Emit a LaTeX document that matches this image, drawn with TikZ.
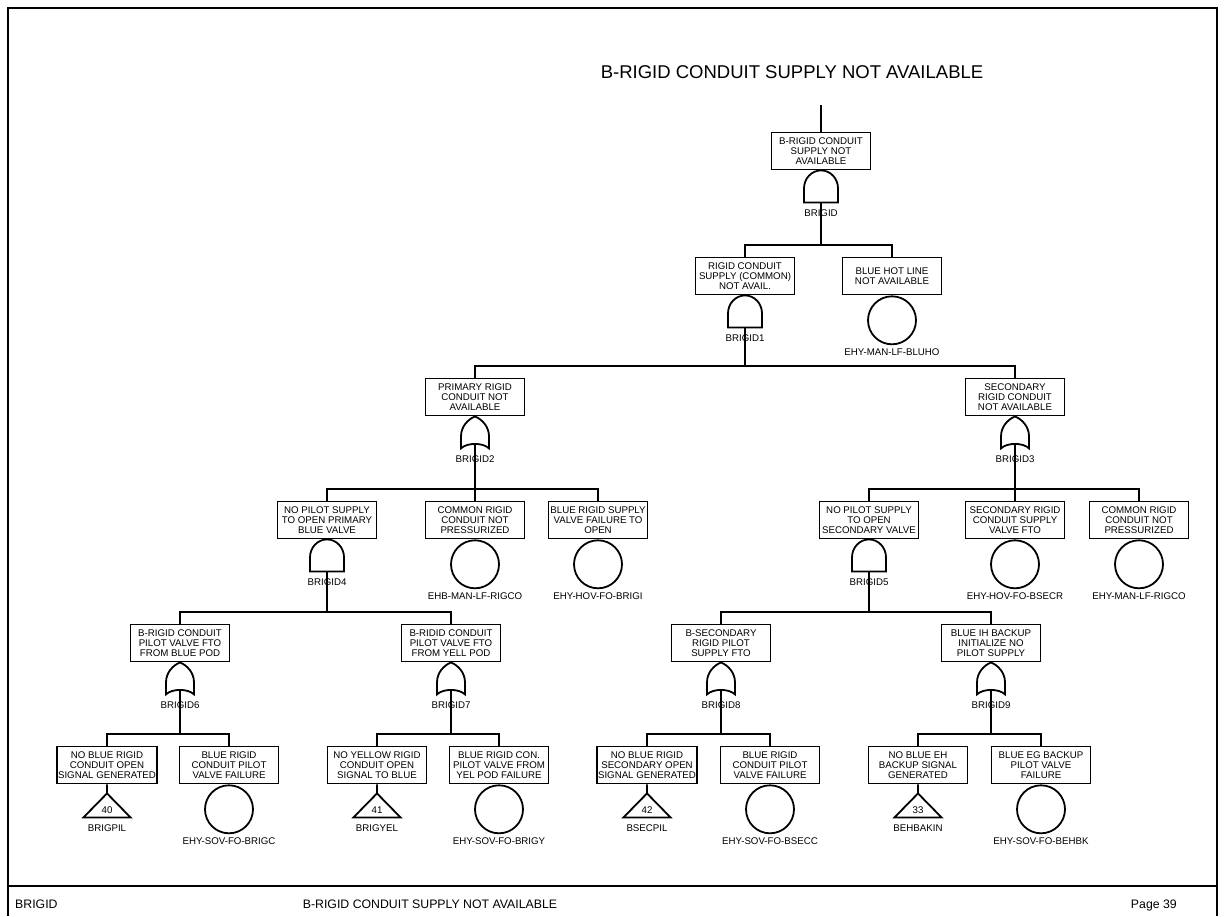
\documentclass[tikz,border=0pt]{standalone}
\usepackage{fontspec}
\setmainfont{Liberation Sans}
\usetikzlibrary{positioning}

\newcommand\evtfont{\fontsize{9.7}{9.8}\selectfont}
\newcommand\titlefont{\fontsize{18.5}{20}\selectfont}
\newcommand\footfont{\fontsize{12.3}{14}\selectfont}

\tikzset{
  andgate/.pic={\draw[pic actions] (-17pt,-32pt) -- (-17pt,-18pt) arc[start angle=180,end angle=0,x radius=17pt,y radius=18pt] -- (17pt,-32pt) -- cycle;},
  orgate/.pic={\draw[pic actions] (0,0) .. controls (7pt,-3pt) and (14pt,-10pt) .. (14pt,-20pt) -- (14pt,-32pt) .. controls (8pt,-26pt) and (-8pt,-26pt) .. (-14pt,-32pt) -- (-14pt,-20pt) .. controls (-14pt,-10pt) and (-7pt,-3pt) .. (0,0) -- cycle;},
  xfer/.pic={\draw[pic actions] (0,0) -- (0,-9pt) -- (23.5pt,-33pt) -- (-23.5pt,-33pt) -- (0,-9pt);}
}

\begin{document}
\begin{tikzpicture}[x=1pt, y=-1pt, line width=1.8pt,
  evt/.style={draw, minimum width=99pt, minimum height=37pt, inner sep=1pt, align=center, font=\evtfont},
  lbl/.style={inner sep=0pt, font=\evtfont},
  basic/.style={draw, circle, minimum size=48pt, inner sep=0pt}]
\useasboundingbox (0,0) rectangle (1225,916);
% page frame and footer
\draw[line width=1.3pt] (8,916) -- (8,8) -- (1217,8) -- (1217,916);
\draw[line width=2pt] (8,886) -- (1217,886);
\node[font=\titlefont] (title) at (792,72) {B-RIGID CONDUIT SUPPLY NOT AVAILABLE};
\node[font=\footfont, anchor=base west] (foot-l) at (11,908) {BRIGID};
\node[font=\footfont, anchor=base] (foot-c) at (430,908) {B-RIGID CONDUIT SUPPLY NOT AVAILABLE};
\node[font=\footfont, anchor=base east] (foot-r) at (1181,908) {Page 39};

% events
\node[evt] (brigid)   at (821,151) {B-RIGID CONDUIT\\SUPPLY NOT\\AVAILABLE};
\node[evt] (brigid1)  at (745,276) {RIGID CONDUIT\\SUPPLY (COMMON)\\NOT AVAIL.};
\node[evt] (bluho)    at (892,276) {BLUE HOT LINE\\NOT AVAILABLE};
\node[evt] (brigid2)  at (475,397) {PRIMARY RIGID\\CONDUIT NOT\\AVAILABLE};
\node[evt] (brigid3)  at (1015,397) {SECONDARY\\RIGID CONDUIT\\NOT AVAILABLE};
\node[evt] (brigid4)  at (327,520) {NO PILOT SUPPLY\\TO OPEN PRIMARY\\BLUE VALVE};
\node[evt] (rigco)    at (475,520) {COMMON RIGID\\CONDUIT NOT\\PRESSURIZED};
\node[evt] (brigi)    at (598,520) {BLUE RIGID SUPPLY\\VALVE FAILURE TO\\OPEN};
\node[evt] (brigid5)  at (869,520) {NO PILOT SUPPLY\\TO OPEN\\SECONDARY VALVE};
\node[evt] (bsecr)    at (1015,520) {SECONDARY RIGID\\CONDUIT SUPPLY\\VALVE FTO};
\node[evt] (rigcob)   at (1139,520) {COMMON RIGID\\CONDUIT NOT\\PRESSURIZED};
\node[evt] (brigid6)  at (180,643) {B-RIGID CONDUIT\\PILOT VALVE FTO\\FROM BLUE POD};
\node[evt] (brigid7)  at (451,643) {B-RIDID CONDUIT\\PILOT VALVE FTO\\FROM YELL POD};
\node[evt] (brigid8)  at (721,643) {B-SECONDARY\\RIGID PILOT\\SUPPLY FTO};
\node[evt] (brigid9)  at (991,643) {BLUE IH BACKUP\\INITIALIZE NO\\PILOT SUPPLY};
\node[evt] (brigpil)  at (107,765) {NO BLUE RIGID\\CONDUIT OPEN\\SIGNAL GENERATED};
\node[evt] (brigc)    at (229,765) {BLUE RIGID\\CONDUIT PILOT\\VALVE FAILURE};
\node[evt] (brigyel)  at (377,765) {NO YELLOW RIGID\\CONDUIT OPEN\\SIGNAL TO BLUE};
\node[evt] (brigy)    at (499,765) {BLUE RIGID CON.\\PILOT VALVE FROM\\YEL POD FAILURE};
\node[evt] (bsecpil)  at (647,765) {NO BLUE RIGID\\SECONDARY OPEN\\SIGNAL GENERATED};
\node[evt] (bsecc)    at (770,765) {BLUE RIGID\\CONDUIT PILOT\\VALVE FAILURE};
\node[evt] (behbakin) at (918,765) {NO BLUE EH\\BACKUP SIGNAL\\GENERATED};
\node[evt] (behbk)    at (1041,765) {BLUE EG BACKUP\\PILOT VALVE\\FAILURE};

% gates
\foreach \g/\s in {brigid/BRIGID, brigid1/BRIGID1, brigid4/BRIGID4, brigid5/BRIGID5} {
  \pic at (\g.south) {andgate};
  \coordinate (\g-in) at ([yshift=-32pt]\g.south);
  \node[lbl] (\g-l) at ([yshift=-43pt]\g.south) {\s};
}
\foreach \g/\s in {brigid2/BRIGID2, brigid3/BRIGID3, brigid6/BRIGID6, brigid7/BRIGID7, brigid8/BRIGID8, brigid9/BRIGID9} {
  \pic at (\g.south) {orgate};
  \coordinate (\g-in) at ([yshift=-28pt]\g.south);
  \node[lbl] (\g-l) at ([yshift=-43pt]\g.south) {\s};
}

% basic events
\foreach \e/\s in {bluho/EHY-MAN-LF-BLUHO, rigco/EHB-MAN-LF-RIGCO, brigi/EHY-HOV-FO-BRIGI,
    bsecr/EHY-HOV-FO-BSECR, rigcob/EHY-MAN-LF-RIGCO, brigc/EHY-SOV-FO-BRIGC,
    brigy/EHY-SOV-FO-BRIGY, bsecc/EHY-SOV-FO-BSECC, behbk/EHY-SOV-FO-BEHBK} {
  \node[basic, below=0pt of \e] (\e-c) {};
  \node[lbl, below=3pt of \e-c] (\e-l) {\s};
}

% transfers
\foreach \e/\n/\s in {brigpil/40/BRIGPIL, brigyel/41/BRIGYEL, bsecpil/42/BSECPIL, behbakin/33/BEHBAKIN} {
  \pic at (\e.south) {xfer};
  \node[lbl] (\e-n) at ([yshift=-26pt]\e.south) {\n};
  \node[lbl] (\e-l) at ([yshift=-44pt]\e.south) {\s};
}

% tree
\draw (brigid.north) -- ++(0,-27);
\foreach \p/\c in {brigid/brigid1, brigid/bluho, brigid1/brigid2, brigid1/brigid3,
    brigid2/brigid4, brigid2/rigco, brigid2/brigi, brigid3/brigid5, brigid3/bsecr, brigid3/rigcob,
    brigid4/brigid6, brigid4/brigid7, brigid5/brigid8, brigid5/brigid9,
    brigid6/brigpil, brigid6/brigc, brigid7/brigyel, brigid7/brigy,
    brigid8/bsecpil, brigid8/bsecc, brigid9/behbakin, brigid9/behbk}
  \draw (\c.north) -- ++(0,-12) -| (\p-in);
\end{tikzpicture}
\end{document}
